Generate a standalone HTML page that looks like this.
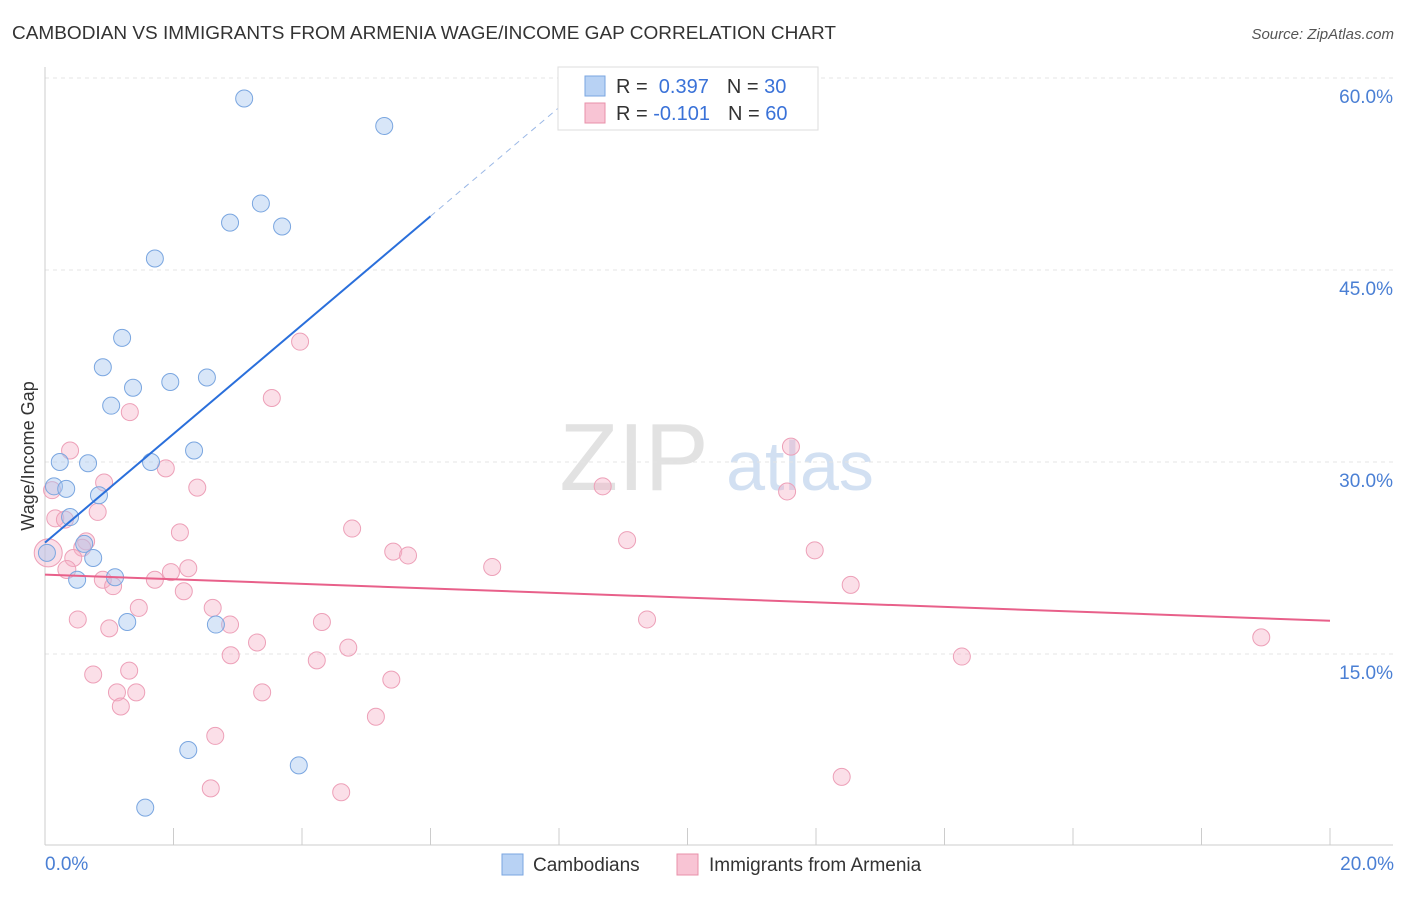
<!DOCTYPE html>
<html><head><meta charset="utf-8"><style>
body{margin:0;background:#fff;font-family:"Liberation Sans",sans-serif;}
svg text{font-family:"Liberation Sans",sans-serif;}
</style></head><body>
<svg id="c" width="1406" height="892">
<text x="12" y="39" font-size="18" fill="#333" textLength="824" lengthAdjust="spacingAndGlyphs">CAMBODIAN VS IMMIGRANTS FROM ARMENIA WAGE/INCOME GAP CORRELATION CHART</text>
<text x="1394" y="39" font-size="15" fill="#555" font-style="italic" text-anchor="end">Source: ZipAtlas.com</text>
<text x="634" y="490" font-size="96" fill="#e2e2e2" font-family="Liberation Serif" text-anchor="middle">ZIP</text>
<text x="800" y="490" font-size="70" fill="#d2e0f2" text-anchor="middle">atlas</text>
<text transform="translate(34,456) rotate(-90)" font-size="18" fill="#333" text-anchor="middle">Wage/Income Gap</text>
<g id="grid"></g><g id="marks"></g>
<g>
<rect x="558" y="67" width="260" height="63" fill="#fff" stroke="#ddd"/>
<rect x="585" y="76" width="20" height="20" fill="#b8d2f4" stroke="#7aa6e0"/>
<rect x="585" y="103" width="20" height="20" fill="#f8c4d4" stroke="#e890aa"/>
<text x="616" y="93" font-size="20" fill="#333">R = <tspan fill="#3a72d8">&#160;0.397</tspan><tspan dx="18">N = </tspan><tspan fill="#3a72d8">30</tspan></text>
<text x="616" y="120" font-size="20" fill="#333">R = <tspan fill="#3a72d8">-0.101</tspan><tspan dx="18">N = </tspan><tspan fill="#3a72d8">60</tspan></text>
</g>
<g>
<rect x="502" y="854" width="21" height="21" fill="#b8d2f4" stroke="#7aa6e0"/>
<text x="533" y="871" font-size="19" fill="#333">Cambodians</text>
<rect x="677" y="854" width="21" height="21" fill="#f8c4d4" stroke="#e890aa"/>
<text x="709" y="871" font-size="19" fill="#333">Immigrants from Armenia</text>
</g>
</svg>
<script>
const yTicks=[15,30,45,60];
const xTickLabels=["0.0%","20.0%"];
const blueX=[3.10,5.28,3.36,2.88,3.69,1.71,1.20,0.90,1.37,1.95,2.52,1.03,2.32,1.65,0.23,0.67,0.14,0.33,0.84,0.39,0.61,0.75,0.03,0.50,1.09,1.28,2.66,2.23,3.95,1.56];
const blueY=[58.4,56.25,50.2,48.7,48.4,45.9,39.7,37.4,35.8,36.25,36.6,34.4,30.9,30.0,30.0,29.9,28.1,27.9,27.4,25.7,23.6,22.5,22.9,20.8,21.0,17.5,17.3,7.5,6.3,3.0];
const pinkX=[3.97,3.53,1.32,11.61,0.39,1.88,8.68,2.37,11.55,0.11,0.92,0.82,0.16,0.31,4.78,2.10,9.06,0.64,11.98,5.42,5.65,0.58,0.44,6.96,2.23,1.96,1.71,0.90,1.06,12.54,2.16,1.46,2.61,0.51,9.37,2.88,4.31,1.00,18.93,3.30,4.72,2.89,4.23,14.27,1.31,0.75,5.39,1.12,1.42,3.38,1.18,5.15,2.65,12.40,2.58,4.61,0.05,0.34];
const pinkY=[39.4,35.0,33.9,31.2,30.9,29.5,28.1,28.0,27.7,27.8,28.4,26.1,25.6,25.5,24.8,24.5,23.9,23.8,23.1,23.0,22.7,23.3,22.5,21.8,21.7,21.4,20.8,20.8,20.3,20.4,19.9,18.6,18.6,17.7,17.7,17.3,17.5,17.0,16.3,15.9,15.5,14.9,14.5,14.8,13.7,13.4,13.0,12.0,12.0,12.0,10.9,10.1,8.6,5.4,4.5,4.2,22.9,21.6];
const blueTrend=[23.7,4.25];
const pinkTrend=[21.2,-0.18];
const X=v=>45+v*64.25, Y=v=>846-v*12.8;
const NS="http://www.w3.org/2000/svg";
function mk(p,t,a){const e=document.createElementNS(NS,t);for(const k in a)e.setAttribute(k,a[k]);p.appendChild(e);return e;}
const g=document.getElementById('grid'),m=document.getElementById('marks');
yTicks.forEach(t=>{
const l=mk(g,'line',{x1:45,x2:1393,y1:Y(t),y2:Y(t),stroke:'#e4e4e4','stroke-dasharray':'4,4'});


const tx=mk(g,'text',{x:1393,y:Y(t)+25,'font-size':19,fill:'#4a7fd4','text-anchor':'end'});
tx.textContent=t.toFixed(1)+'%';


});
mk(g,'line',{x1:45,x2:45,y1:67,y2:845,stroke:'#ccc'});
mk(g,'line',{x1:45,x2:1393,y1:845,y2:845,stroke:'#ccc'});
for(let i=0;i<=10;i++){const t=mk(g,'line',{x1:X(i*2),x2:X(i*2),y1:828,y2:845,stroke:'#ccc'});

}
[[0,'start',45],[20,'end',1394]].forEach((d,i)=>{const t=mk(g,'text',{x:d[2],y:870,'font-size':19,fill:'#4a7fd4','text-anchor':d[1]});t.textContent=xTickLabels[i];

});
pinkX.forEach((x,i)=>{const r=(i>=56)?(i==56?14:9):8.5;const c=mk(m,'circle',{cx:X(x),cy:Y(pinkY[i]),r:r,fill:'rgba(245,175,198,0.4)',stroke:'#eda0b8','stroke-width':1});

});
blueX.forEach((x,i)=>{const c=mk(m,'circle',{cx:X(x),cy:Y(blueY[i]),r:8.5,fill:'rgba(168,200,240,0.45)',stroke:'#7aa6e0','stroke-width':1});

});
const bt=x=>blueTrend[0]+blueTrend[1]*x, pt=x=>pinkTrend[0]+pinkTrend[1]*x;
let l=mk(m,'line',{x1:X(0),y1:Y(bt(0)),x2:X(6),y2:Y(bt(6)),stroke:'#2a6fdb','stroke-width':2});


l=mk(m,'line',{x1:X(6),y1:Y(bt(6)),x2:X(8.4),y2:Y(bt(8.4)),stroke:'#9bb8e6','stroke-width':1,'stroke-dasharray':'6,5'});


l=mk(m,'line',{x1:X(0),y1:Y(pt(0)),x2:X(20),y2:Y(pt(20)),stroke:'#e8608a','stroke-width':2});


</script>
</body></html>
